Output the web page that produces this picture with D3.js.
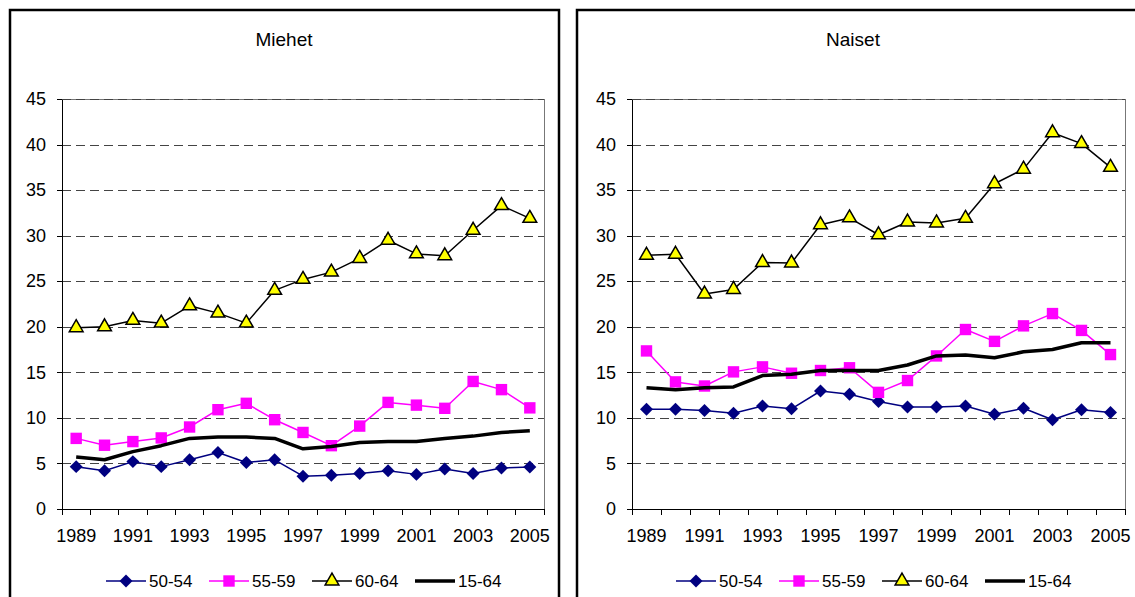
<!DOCTYPE html>
<html>
<head>
<meta charset="utf-8" />
<style>
	body { margin: 0; background: #fff; }
	svg text { font-family: 'Liberation Sans', Arial, sans-serif; fill: #000; }
	.grid line { stroke: #444; stroke-dasharray: 9,5; shape-rendering: crispEdges; }
	.axis path, .axis line { stroke: #000; shape-rendering: crispEdges; }
	.axis text { font-size: 18px; }
</style>
</head>
<body>
<svg id="chart" width="1135" height="597"></svg>

<script src="https://d3js.org/d3.v7.min.js"></script>
<script>

//// data ////
var years = [1989,1990,1991,1992,1993,1994,1995,1996,1997,1998,1999,2000,2001,2002,2003,2004,2005];
var yTicks = [0,5,10,15,20,25,30,35,40,45];
var seriesNames = ['50-54','55-59','60-64','15-64'];

// Miehet
var men5054 = [4.65,4.2,5.2,4.65,5.4,6.2,5.1,5.4,3.6,3.7,3.9,4.2,3.8,4.4,3.9,4.5,4.6];
var men5559 = [7.75,7.0,7.4,7.8,9.0,10.9,11.6,9.8,8.4,6.95,9.1,11.7,11.4,11.05,14.0,13.1,11.1];
var men6064 = [19.9,20.0,20.7,20.4,22.3,21.5,20.4,24.0,25.2,26.0,27.5,29.5,28.0,27.8,30.6,33.3,31.9];
var men1564 = [5.7,5.4,6.3,6.95,7.75,7.9,7.9,7.75,6.6,6.85,7.3,7.4,7.4,7.75,8.0,8.4,8.6];

// Naiset
var women5054 = [10.95,10.95,10.8,10.5,11.3,11.0,12.95,12.6,11.8,11.2,11.2,11.3,10.4,11.05,9.8,10.9,10.6];
var women5559 = [17.35,13.95,13.5,15.05,15.6,14.9,15.2,15.5,12.8,14.1,16.8,19.7,18.4,20.1,21.45,19.6,16.95];
var women6064 = [27.85,27.96,23.6,24.1,27.05,27.0,31.2,31.95,30.1,31.5,31.4,31.9,35.7,37.3,41.3,40.1,37.5];
var women1564 = [13.3,13.1,13.3,13.4,14.65,14.8,15.2,15.2,15.2,15.8,16.8,16.9,16.6,17.25,17.5,18.25,18.25];


var svg = d3.select('#chart');

// series styles (same order as seriesNames)
var styles = [
	{color: '#000080', width: 1.5, marker: 'diamond'},
	{color: '#ff00ff', width: 1.5, marker: 'square'},
	{color: '#000000', width: 1.5, marker: 'triangle'},
	{color: '#000000', width: 3.5, marker: null}
];

function drawMarker(g, type, color) {
	if (type == 'diamond') {
		g.append('path')
			.attr('d', d3.symbol().type(d3.symbolSquare).size(84)())
			.attr('transform', 'rotate(45)')
			.attr('fill', color);
	} else if (type == 'square') {
		g.append('path')
			.attr('d', d3.symbol().type(d3.symbolSquare).size(130)())
			.attr('fill', color);
	} else if (type == 'triangle') {
		g.append('path')
			.attr('d', d3.symbol().type(d3.symbolTriangle).size(82)())
			.attr('fill', '#ffff00')
			.attr('stroke', '#000')
			.attr('stroke-width', 1.5);
	}
}

function drawPanel(p) {
	var g = svg.append('g');

	// panel frame
	g.append('rect')
		.attr('x', p.frame[0]).attr('y', 10)
		.attr('width', p.frame[1] - p.frame[0]).attr('height', 640)
		.attr('fill', 'none').attr('stroke', '#000').attr('stroke-width', 2.5);

	g.append('text')
		.attr('x', p.titleX).attr('y', 46)
		.attr('text-anchor', 'middle')
		.style('font-size', '19px')
		.text(p.title);

	var x = d3.scaleBand().domain(years).range(p.xRange);
	var y = d3.scaleLinear().domain([0, 45]).range([509, 99]);

	// plot area border
	g.append('rect')
		.attr('x', p.xRange[0]).attr('y', y(45))
		.attr('width', p.xRange[1] - p.xRange[0]).attr('height', y(0) - y(45))
		.attr('fill', 'none').attr('stroke', '#777')
		.style('shape-rendering', 'crispEdges');

	// y gridlines
	g.append('g')
		.attr('class', 'grid')
		.attr('transform', 'translate(' + p.xRange[0] + ',0)')
		.call(d3.axisLeft(y).tickValues(yTicks.slice(1)).tickSize(-(p.xRange[1] - p.xRange[0])).tickFormat(''))
		.call(function(a) { a.select('.domain').remove(); });

	// y axis
	g.append('g')
		.attr('class', 'axis')
		.attr('transform', 'translate(' + p.xRange[0] + ',0)')
		.call(d3.axisLeft(y).tickValues(yTicks).tickSize(5).tickPadding(11).tickSizeOuter(0));

	// x axis: labels every other year, ticks between categories
	var xa = g.append('g')
		.attr('class', 'axis')
		.attr('transform', 'translate(0,' + y(0) + ')')
		.call(d3.axisBottom(x).tickSize(0).tickPadding(20).tickSizeOuter(0)
			.tickFormat(function(d, i) { return i % 2 == 0 ? d : ''; }));
	xa.selectAll('line.bound')
		.data(years.map(function(d) { return x(d); }).concat([x.range()[1]]))
		.enter().append('line')
		.attr('class', 'bound')
		.attr('x1', function(d) { return d; }).attr('x2', function(d) { return d; })
		.attr('y1', 0).attr('y2', 6);

	// lines and markers
	var line = d3.line()
		.x(function(d, i) { return x(years[i]) + x.bandwidth() / 2; })
		.y(function(d) { return y(d); });

	p.series.forEach(function(vals, s) {
		var st = styles[s];
		g.append('path')
			.datum(vals)
			.attr('d', line)
			.attr('fill', 'none')
			.attr('stroke', st.color)
			.attr('stroke-width', st.width)
			.attr('stroke-linejoin', 'round');
		if (st.marker) {
			vals.forEach(function(v, i) {
				var m = g.append('g')
					.attr('transform', 'translate(' + (x(years[i]) + x.bandwidth() / 2) + ',' + y(v) + ')');
				drawMarker(m, st.marker, st.color);
			});
		}
	});

	// legend
	var lg = g.append('g').attr('transform', 'translate(' + (p.xRange[0] + 44) + ',581)');
	seriesNames.forEach(function(name, s) {
		var st = styles[s];
		var item = lg.append('g').attr('transform', 'translate(' + (s * 103) + ',0)');
		item.append('line')
			.attr('x1', 0).attr('x2', 40)
			.attr('stroke', st.color).attr('stroke-width', st.width);
		if (st.marker) drawMarker(item.append('g').attr('transform', 'translate(20,0)'), st.marker, st.color);
		item.append('text')
			.attr('x', 43).attr('y', 6)
			.style('font-size', '17px')
			.text(name);
	});
}

drawPanel({title: 'Miehet', titleX: 284, frame: [10, 559], xRange: [62, 544],
	series: [men5054, men5559, men6064, men1564]});
drawPanel({title: 'Naiset', titleX: 853, frame: [577, 1160], xRange: [632, 1125],
	series: [women5054, women5559, women6064, women1564]});

</script>
</body>
</html>
